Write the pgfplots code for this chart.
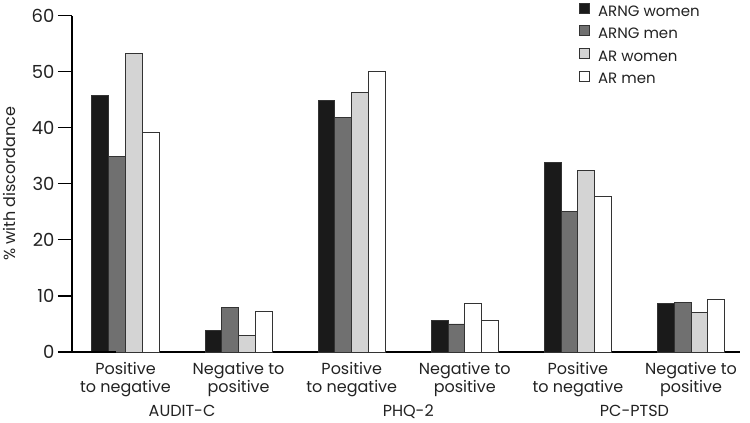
\documentclass[border=0pt]{standalone}
\usepackage{pgfplots}
\pgfplotsset{compat=1.18}
\usepackage{fontspec}
\setmainfont{Poppins}
\definecolor{txt}{HTML}{222222}
\definecolor{edge}{HTML}{333333}
\definecolor{cblack}{HTML}{1A1A1A}
\definecolor{cdark}{HTML}{707070}
\definecolor{clight}{HTML}{D4D4D4}
\begin{document}
\begin{tikzpicture}
\path[use as bounding box] (-72bp,-71bp) rectangle (678bp,352bp);
\begin{axis}[
  scale only axis, width=668bp, height=336.5bp,
  xmin=-0.473, xmax=5.433, ymin=0, ymax=60,
  axis x line=bottom, axis y line=left, axis line style={-, black, line width=1.2bp},
  ytick={0,10,...,60}, ytick pos=left, tick align=outside,
  major tick length=14bp, tick style={black, line width=1.2bp},
  xtick={0,...,5}, xtick style={draw=none},
  xticklabels={{Positive\\to negative},{Negative to\\positive},{Positive\\to negative},{Negative to\\positive},{Positive\\to negative},{Negative to\\positive}},
  xticklabel style={align=center, text=txt, font=\fontsize{16bp}{18bp}\selectfont, yshift=7bp},
  yticklabel style={text=txt, font=\fontsize{18bp}{20bp}\selectfont},
  /pgf/number format/assume math mode=true,
  ybar, bar width=16.8bp,
  every axis plot/.append style={draw=edge, line width=0.9bp},
  clip=false,
  legend style={at={(rel axis cs:0.7545,1.045)}, anchor=north west, draw=none, fill=none,
    font=\fontsize{15bp}{17bp}\selectfont, text=txt, row sep=6.2bp,
    nodes={inner sep=0pt, text height=10bp, text depth=3bp},
    /tikz/every odd column/.style={column sep=8bp},
    cells={anchor=west}},
  legend image code/.code={\draw[#1] (0bp,-0.5bp) rectangle (10bp,9.5bp);},
]
\addplot[fill=cblack, bar shift=-25.2bp] coordinates {(0,45.8) (1,3.9) (2,44.9) (3,5.7) (4,33.8) (5,8.6)};
\addlegendentry{ARNG women}
\addplot[fill=cdark, bar shift=-8.4bp] coordinates {(0,34.8) (1,7.9) (2,41.9) (3,5.0) (4,25.0) (5,8.9)};
\addlegendentry{ARNG men}
\addplot[fill=clight, bar shift=8.4bp] coordinates {(0,53.2) (1,2.9) (2,46.2) (4,32.3) (5,7.0)};
\addlegendentry{AR women}
\addplot[fill=white, bar shift=25.2bp] coordinates {(0,39.2) (1,7.2) (2,50.0) (3,5.6) (4,27.7) (5,9.3)};
\addlegendentry{AR men}
\addplot[fill=white, bar shift=8.4bp, forget plot] coordinates {(3,8.7)};
\draw[black, line width=1.2bp] (rel axis cs:0,0) -- ++(-9bp,0);
\node[text=txt, font=\fontsize{16bp}{18bp}\selectfont, anchor=base] at (axis cs:0.5,0) [yshift=-64bp] {AUDIT-C};
\node[text=txt, font=\fontsize{16bp}{18bp}\selectfont, anchor=base] at (axis cs:2.5,0) [yshift=-64bp] {PHQ-2};
\node[text=txt, font=\fontsize{16bp}{18bp}\selectfont, anchor=base] at (axis cs:4.5,0) [yshift=-64bp] {PC-PTSD};
\node[text=txt, font=\fontsize{16bp}{18bp}\selectfont, rotate=90] at (rel axis cs:-0.0928,0.5) {\% with discordance};
\end{axis}
\end{tikzpicture}
\end{document}
